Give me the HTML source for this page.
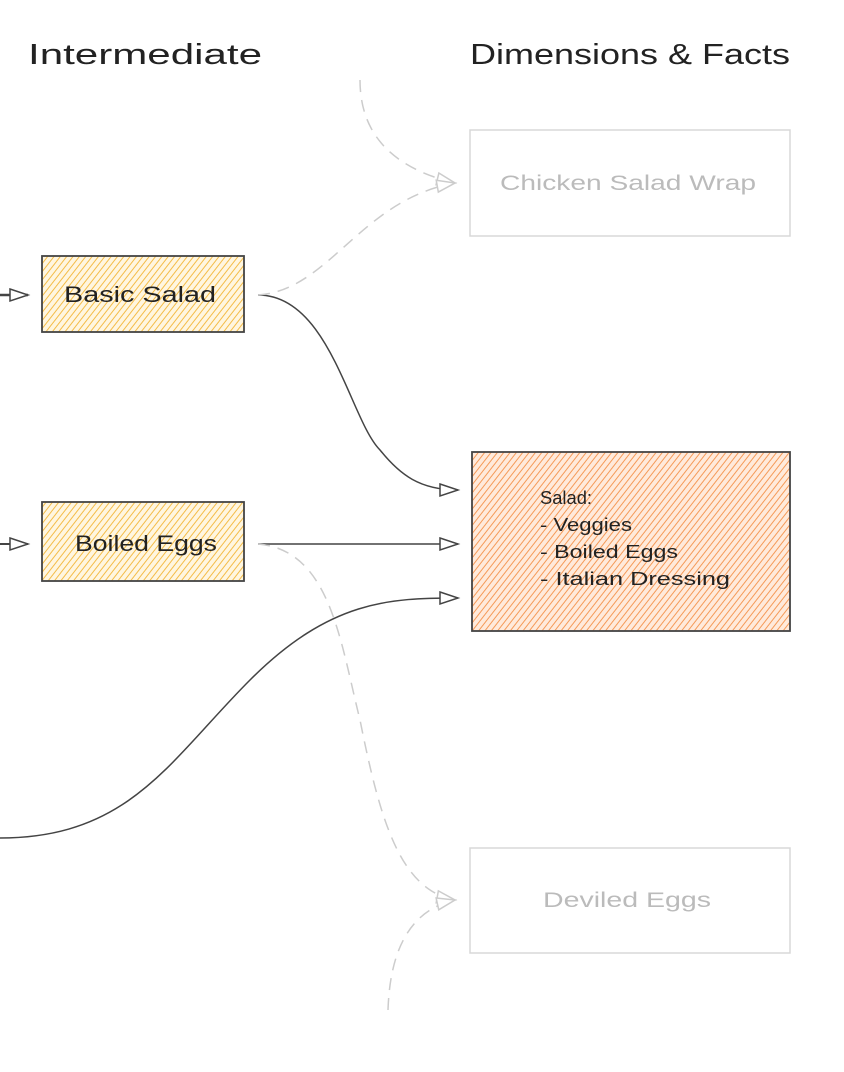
<!DOCTYPE html>
<html><head><style>
html,body{margin:0;padding:0;background:#fff;}
svg{display:block;}
text{font-family:"Liberation Sans",sans-serif;}
</style></head><body>
<svg width="844" height="1072" viewBox="0 0 844 1072" xmlns="http://www.w3.org/2000/svg">
<defs>
<pattern id="hy" width="5" height="5" patternUnits="userSpaceOnUse" patternTransform="rotate(38)">
<rect width="5" height="5" fill="#fff6e0"/>
<line x1="0" y1="0" x2="0" y2="5" stroke="#f4bc48" stroke-width="2"/>
</pattern>
<pattern id="ho" width="5" height="5" patternUnits="userSpaceOnUse" patternTransform="rotate(38)">
<rect width="5" height="5" fill="#ffeadb"/>
<line x1="0" y1="0" x2="0" y2="5" stroke="#f59a58" stroke-width="2"/>
</pattern>
<marker id="ad" markerWidth="24" markerHeight="16" refX="20" refY="8" orient="auto" markerUnits="userSpaceOnUse">
<path d="M2,2 L20,8 L2,14 Z" fill="#fff" stroke="#444" stroke-width="1.5"/></marker>
<marker id="ag" markerWidth="24" markerHeight="16" refX="20" refY="8" orient="auto" markerUnits="userSpaceOnUse">
<path d="M2,2 L20,8 L2,14 Z" fill="#fff" stroke="#ccc" stroke-width="1.5"/></marker>
</defs>
<text x="28" y="64" font-size="29" fill="#222" textLength="234" lengthAdjust="spacingAndGlyphs">Intermediate</text>
<text x="470" y="64" font-size="29" fill="#222" textLength="320" lengthAdjust="spacingAndGlyphs">Dimensions &amp; Facts</text>

<rect x="470" y="130" width="320" height="106" fill="none" stroke="#d8d8d8" stroke-width="1.5"/>
<text x="500" y="190" font-size="21" fill="#bbb" textLength="256" lengthAdjust="spacingAndGlyphs">Chicken Salad Wrap</text>

<rect x="42" y="256" width="202" height="76" fill="url(#hy)" stroke="#444" stroke-width="1.8"/>
<text x="64" y="302" font-size="22" fill="#222" textLength="152" lengthAdjust="spacingAndGlyphs">Basic Salad</text>

<rect x="42" y="502" width="202" height="79" fill="url(#hy)" stroke="#444" stroke-width="1.8"/>
<text x="75" y="551" font-size="22" fill="#222" textLength="142" lengthAdjust="spacingAndGlyphs">Boiled Eggs</text>

<rect x="472" y="452" width="318" height="179" fill="url(#ho)" stroke="#444" stroke-width="1.8"/>
<text x="540" y="504" font-size="18" fill="#222" textLength="52" lengthAdjust="spacingAndGlyphs">Salad:</text>
<text x="540" y="531" font-size="18" fill="#222" textLength="92" lengthAdjust="spacingAndGlyphs">- Veggies</text>
<text x="540" y="558" font-size="18" fill="#222" textLength="138" lengthAdjust="spacingAndGlyphs">- Boiled Eggs</text>
<text x="540" y="585" font-size="18" fill="#222" textLength="190" lengthAdjust="spacingAndGlyphs">- Italian Dressing</text>

<rect x="470" y="848" width="320" height="105" fill="none" stroke="#d8d8d8" stroke-width="1.5"/>
<text x="543" y="907" font-size="21" fill="#bbb" textLength="168" lengthAdjust="spacingAndGlyphs">Deviled Eggs</text>

<g fill="none" stroke-width="1.5">
<path d="M0,295 L28,295" stroke="#444" stroke-width="2.5" marker-end="url(#ad)"/>
<path d="M0,544 L28,544" stroke="#444" stroke-width="2" marker-end="url(#ad)"/>
<path d="M258,295 C330,295 350,420 380,450 C400,475 420,490 458,490" stroke="#444" marker-end="url(#ad)"/>
<path d="M258,544 L458,544" stroke="#444" marker-end="url(#ad)"/>
<path d="M0,838 C130,838 170,760 250,680 C330,600 390,598 458,598" stroke="#444" marker-end="url(#ad)"/>
<path d="M360,80 C360,140 400,170 455,183" stroke="#ccc" stroke-dasharray="12 8" marker-end="url(#ag)"/>
<path d="M258,295 C330,290 360,200 455,183" stroke="#ccc" stroke-dasharray="12 8" marker-end="url(#ag)"/>
<path d="M258,544 C330,550 340,640 360,720 C380,820 400,890 455,900" stroke="#ccc" stroke-dasharray="12 8" marker-end="url(#ag)"/>
<path d="M388,1010 C390,950 410,910 455,900" stroke="#ccc" stroke-dasharray="12 8" marker-end="url(#ag)"/>
</g>
</svg>
</body></html>
